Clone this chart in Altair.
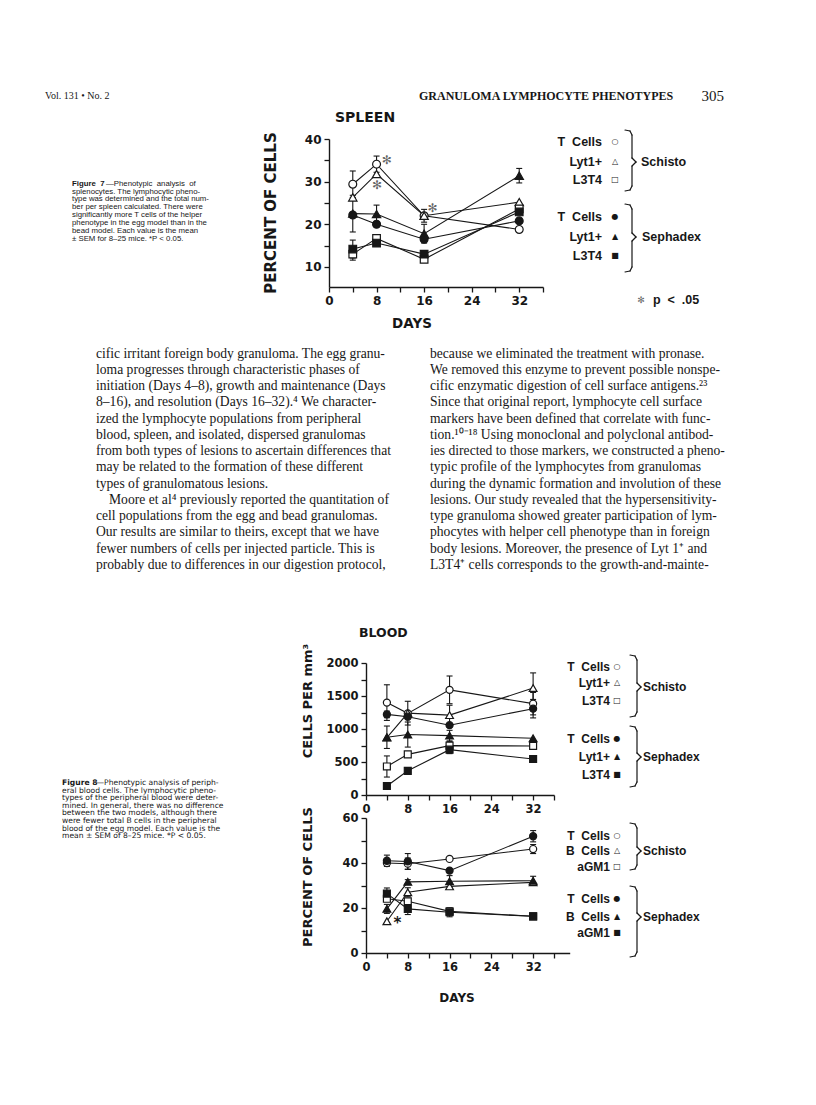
import altair as alt
import pandas as pd

OFF = 8
W, H = 800, 1089


def P(v):
    return v - OFF


INK = "#171717"
SANS = "Liberation Sans"
WIDE = "DejaVu Sans"
SERIF = "Liberation Serif"
NB = "\u00a0"

days = [4, 8, 16, 32]

# ---------------- Figure 7: spleen, percent of cells ----------------
spleen_names = ["Schisto T Cells", "Schisto Lyt1+", "Schisto L3T4",
                "Sephadex T Cells", "Sephadex Lyt1+", "Sephadex L3T4"]
spleen_schisto_t = [29.4, 34.1, 22.0, 18.8]
spleen_schisto_lyt = [26.3, 31.8, 22.0, 25.2]
spleen_schisto_l3t4 = [13.0, 16.7, 11.8, 23.6]
spleen_sephadex_t = [22.2, 20.0, 16.5, 20.8]
spleen_sephadex_lyt = [22.5, 22.4, 17.8, 31.4]
spleen_sephadex_l3t4 = [14.2, 15.6, 13.0, 22.9]
spleen_sem = [[3.1, 1.9, 0, 0], [0, 0, 1.5, 0], [1.4, 0, 0, 0],
              [0, 0, 0, 0], [4.3, 2.1, 2.2, 1.7], [2.1, 0.6, 0, 0]]
spleen_star_days = [9.7, 8.1, 17.4]
spleen_star_vals = [35.0, 29.3, 23.9]

# ---------------- Figure 8: blood, cells per mm3 ----------------
cells_names = ["Schisto T Cells", "Schisto Lyt1+", "Schisto L3T4",
               "Sephadex T Cells", "Sephadex Lyt1+", "Sephadex L3T4"]
cells_schisto_t = [1400, 1237, 1593, 1384]
cells_schisto_lyt = [870, 1240, 1210, 1620]
cells_schisto_l3t4 = [432, 616, 748, 743]
cells_sephadex_t = [1221, 1186, 1058, 1308]
cells_sephadex_lyt = [875, 916, 900, 860]
cells_sephadex_l3t4 = [137, 366, 687, 545]
cells_sem = [[270, 0, 210, 170], [0, 180, 150, 230], [160, 0, 60, 0],
             [50, 0, 0, 140], [170, 190, 80, 0], [0, 0, 60, 0]]

# ---------------- Figure 8: blood, percent of cells ----------------
pct_names = ["Schisto T Cells", "Schisto B Cells", "Schisto aGM1",
             "Sephadex T Cells", "Sephadex B Cells", "Sephadex aGM1"]
pct_schisto_t = [40.0, 39.7, 41.8, 46.2]
pct_schisto_b = [14.1, 27.0, 29.6, 31.4]
pct_schisto_agm1 = [24.1, 23.0, 18.5, 16.3]
pct_sephadex_t = [41.0, 40.7, 36.6, 51.9]
pct_sephadex_b = [19.6, 31.6, 31.9, 32.1]
pct_sephadex_agm1 = [26.4, 19.6, 18.1, 16.3]
pct_sem = [[0, 2.5, 0, 2.0], [0, 2.0, 0, 0], [0, 0, 0, 0],
           [2.5, 3.5, 0, 2.5], [2.0, 1.0, 2.5, 2.0], [2.5, 2.5, 2.0, 0]]
pct_star_days = [6.0]
pct_star_vals = [13.3]

# ---------------- text ----------------
header_left = "Vol. 131 • No. 2"
header_title = "GRANULOMA LYMPHOCYTE PHENOTYPES"
header_page = "305"

fig7_lines = [
    "splenocytes. The lymphocytic pheno-",
    "type was determined and the total num-",
    "ber per spleen calculated. There were",
    "significantly more T cells of the helper",
    "phenotype in the egg model than in the",
    "bead model. Each value is the mean",
    "± SEM for 8–25 mice. *P < 0.05.",
]
fig8_lines = [
    "eral blood cells. The lymphocytic pheno-",
    "types of the peripheral blood were deter-",
    "mined. In general, there was no difference",
    "between the two models, although there",
    "were fewer total B cells in the peripheral",
    "blood of the egg model. Each value is the",
    "mean ± SEM of 8–25 mice. *P < 0.05.",
]
body_left_a = [
    "cific irritant foreign body granuloma. The egg granu-",
    "loma progresses through characteristic phases of",
    "initiation (Days 4–8), growth and maintenance (Days",
    "8–16), and resolution (Days 16–32).⁴ We character-",
    "ized the lymphocyte populations from peripheral",
    "blood, spleen, and isolated, dispersed granulomas",
    "from both types of lesions to ascertain differences that",
    "may be related to the formation of these different",
    "types of granulomatous lesions.",
]
body_left_indent = "Moore et al⁴ previously reported the quantitation of"
body_left_b = [
    "cell populations from the egg and bead granulomas.",
    "Our results are similar to theirs, except that we have",
    "fewer numbers of cells per injected particle. This is",
    "probably due to differences in our digestion protocol,",
]
body_right = [
    "because we eliminated the treatment with pronase.",
    "We removed this enzyme to prevent possible nonspe-",
    "cific enzymatic digestion of cell surface antigens.²³",
    "Since that original report, lymphocyte cell surface",
    "markers have been defined that correlate with func-",
    "tion.¹⁰⁻¹⁸ Using monoclonal and polyclonal antibod-",
    "ies directed to those markers, we constructed a pheno-",
    "typic profile of the lymphocytes from granulomas",
    "during the dynamic formation and involution of these",
    "lesions. Our study revealed that the hypersensitivity-",
    "type granuloma showed greater participation of lym-",
    "phocytes with helper cell phenotype than in foreign",
    "body lesions. Moreover, the presence of Lyt 1⁺ and",
    "L3T4⁺ cells corresponds to the growth-and-mainte-",
]

MARKERS = [("circle", False), ("triangle-up", False), ("square", False),
           ("circle", True), ("triangle-up", True), ("square", True)]

dummy = pd.DataFrame({"k": [0]})


def txt(s, x, y, size=12, font=SANS, weight="normal", align="left",
        baseline="middle", angle=None, color=INK, lh=None):
    kw = dict(text=s, fontSize=size, font=font, fontWeight=weight, align=align,
              baseline=baseline, color=color)
    if angle is not None:
        kw["angle"] = angle
    if lh is not None:
        kw["lineHeight"] = lh
    return alt.Chart(dummy).mark_text(**kw).encode(
        x=alt.value(P(x)), y=alt.value(P(y)))


def seg(x1, y1, x2, y2):
    return alt.Chart(dummy).mark_rule(color=INK, strokeWidth=1.2, strokeCap="round").encode(
        x=alt.value(P(x1)), y=alt.value(P(y1)), x2=alt.value(P(x2)), y2=alt.value(P(y2)))


def brace(x, top, mid, bottom):
    pts = [(x - 7, top), (x - 2, top + 1), (x, top + 5), (x, mid - 4), (x + 4, mid),
           (x, mid + 4), (x, bottom - 5), (x - 2, bottom - 1), (x - 7, bottom)]
    return [seg(*pts[i], *pts[i + 1]) for i in range(len(pts) - 1)]


def axis(orient, offset, values, label_expr, size):
    return alt.Axis(orient=orient, offset=offset, values=values, labelExpr=label_expr,
                    format="d", title=None, grid=False, domainColor=INK, domainWidth=1.4,
                    tickColor=INK, tickWidth=1.3, tickSize=5, labelFont=WIDE,
                    labelFontWeight="bold", labelFontSize=size, labelColor=INK,
                    labelPadding=3, labelOverlap=False, labelFlush=False, labelBound=False)


def plot_layers(names, vals, sems, xs, ys, xaxis, yaxis, msize):
    rows = []
    for n, v, s in zip(names, vals, sems):
        for d, vv, ss in zip(days, v, s):
            rows.append({"series": n, "day": d, "value": vv,
                         "lo": vv - ss, "hi": vv + ss, "sem": ss})
    df = pd.DataFrame(rows)
    layers = [alt.Chart(df).mark_line(color=INK, strokeWidth=1.1).encode(
        x=alt.X("day:Q", scale=xs, axis=xaxis),
        y=alt.Y("value:Q", scale=ys, axis=yaxis),
        detail="series:N", order="day:Q")]
    err = df[df["sem"] > 0]
    layers.append(alt.Chart(err).mark_rule(color=INK, strokeWidth=1.1).encode(
        x=alt.X("day:Q", scale=xs, axis=None),
        y=alt.Y("lo:Q", scale=ys, axis=None), y2="hi:Q"))
    for f in ["lo", "hi"]:
        layers.append(alt.Chart(err).mark_rule(color=INK, strokeWidth=1.1,
                                               xOffset=-3, x2Offset=3).encode(
            x=alt.X("day:Q", scale=xs, axis=None), x2="day:Q",
            y=alt.Y(f + ":Q", scale=ys, axis=None)))
    for i, n in enumerate(names):
        shape, filled = MARKERS[i]
        sub = df[df["series"] == n]
        layers.append(alt.Chart(sub).mark_point(
            shape=shape, filled=True, fill=INK if filled else "white", stroke=INK,
            strokeWidth=1.2, size=msize[shape], opacity=1).encode(
            x=alt.X("day:Q", scale=xs, axis=None),
            y=alt.Y("value:Q", scale=ys, axis=None)))
    return layers


layers = []

# header
layers.append(txt(header_left, 45, 96, size=10, font=SERIF))
layers.append(txt(header_title, 419, 96, size=12, font=SERIF, weight="bold"))
layers.append(txt(header_page, 724, 96, size=15, font=SERIF, align="right"))

# ---- spleen plot
xs1 = alt.Scale(domain=[0, 36], range=[P(329), P(543)], nice=False, zero=False)
ys1 = alt.Scale(domain=[5.3, 40], range=[P(287), P(139)], nice=False, zero=False)
xa1 = axis("bottom", P(287) - H, list(range(0, 37, 4)),
           "datum.value % 8 == 0 && datum.value <= 32 ? datum.label : ''", 12)
ya1 = axis("left", -P(329), list(range(10, 41, 5)),
           "datum.value % 10 == 0 ? datum.label : ''", 12)
layers += plot_layers(spleen_names,
                      [spleen_schisto_t, spleen_schisto_lyt, spleen_schisto_l3t4,
                       spleen_sephadex_t, spleen_sephadex_lyt, spleen_sephadex_l3t4],
                      spleen_sem, xs1, ys1, xa1, ya1,
                      {"circle": 62, "triangle-up": 70, "square": 58})
stars1 = pd.DataFrame({"day": spleen_star_days, "value": spleen_star_vals})
layers.append(alt.Chart(stars1).mark_text(text="✻", font=WIDE, fontSize=12, color="#666").encode(
    x=alt.X("day:Q", scale=xs1, axis=None), y=alt.Y("value:Q", scale=ys1, axis=None)))
layers.append(txt("SPLEEN", 335, 118, size=14, font=WIDE, weight="bold"))
layers.append(txt("PERCENT OF CELLS", 271, 213, size=15, font=WIDE, weight="bold", align="center", angle=270))
layers.append(txt("DAYS", 412, 324, size=13.5, font=WIDE, weight="bold", align="center"))

# spleen legend
for lab, y, sym in [("T" + NB + NB + "Cells", 142, "○"), ("Lyt1+", 162, "△"), ("L3T4", 180, "□"),
                    ("T" + NB + NB + "Cells", 217, "●"), ("Lyt1+", 237, "▲"), ("L3T4", 256, "■")]:
    layers.append(txt(lab, 602, y, size=12.5, weight="bold", align="right"))
    layers.append(txt(sym, 615, y, size=8, font=WIDE, align="center"))
layers += brace(632, 130, 162, 191)
layers += brace(632, 204, 237, 272)
layers.append(txt("Schisto", 641, 162, size=12.5, weight="bold"))
layers.append(txt("Sephadex", 642, 237, size=12.5, weight="bold"))
layers.append(txt("✻", 641, 300, size=9, font=WIDE, color="#666", align="center"))
layers.append(txt("p" + NB + NB + "<" + NB + NB + ".05", 653, 300, size=12.5, weight="bold"))

# Figure 7 caption
layers.append(txt("Figure" + NB + NB + "7", 72, 185.7, size=7.8, weight="bold", baseline="alphabetic"))
layers.append(txt("—Phenotypic" + NB + NB + "analysis" + NB + NB + "of", 106, 185.7, size=7.8,
                  baseline="alphabetic"))
layers.append(txt(fig7_lines, 72, 185.7 + 7.9, size=7.8, baseline="alphabetic", lh=7.9))

# body text
LH = 16.25
B0 = 357.5
layers.append(txt(body_left_a, 96, B0, size=13.6, font=SERIF, baseline="alphabetic", lh=LH))
layers.append(txt(body_left_indent, 109, B0 + 9 * LH, size=13.6, font=SERIF, baseline="alphabetic"))
layers.append(txt(body_left_b, 96, B0 + 10 * LH, size=13.6, font=SERIF, baseline="alphabetic", lh=LH))
layers.append(txt(body_right, 430, B0, size=13.6, font=SERIF, baseline="alphabetic", lh=LH))

# ---- blood cells per mm3
xs2 = alt.Scale(domain=[0, 36], range=[P(366), P(554)], nice=False, zero=False)
ys2 = alt.Scale(domain=[0, 2000], range=[P(795), P(663)], nice=False, zero=False)
xa2 = axis("bottom", P(795) - H, list(range(0, 37, 4)),
           "datum.value % 8 == 0 && datum.value <= 32 ? datum.label : ''", 11.5)
ya2 = axis("left", -P(366), list(range(0, 2001, 250)),
           "datum.value % 500 == 0 ? datum.label : ''", 11.5)
layers += plot_layers(cells_names,
                      [cells_schisto_t, cells_schisto_lyt, cells_schisto_l3t4,
                       cells_sephadex_t, cells_sephadex_lyt, cells_sephadex_l3t4],
                      cells_sem, xs2, ys2, xa2, ya2,
                      {"circle": 50, "triangle-up": 60, "square": 48})

# ---- blood percent of cells
xs3 = alt.Scale(domain=[0, 39], range=[P(366), P(569.7)], nice=False, zero=False)
ys3 = alt.Scale(domain=[0, 60], range=[P(953), P(818)], nice=False, zero=False)
xa3 = axis("bottom", P(953) - H, list(range(0, 37, 4)),
           "datum.value % 8 == 0 && datum.value <= 32 ? datum.label : ''", 11.5)
ya3 = axis("left", -P(366), list(range(0, 61, 10)),
           "datum.value % 20 == 0 ? datum.label : ''", 11.5)
layers += plot_layers(pct_names,
                      [pct_schisto_t, pct_schisto_b, pct_schisto_agm1,
                       pct_sephadex_t, pct_sephadex_b, pct_sephadex_agm1],
                      pct_sem, xs3, ys3, xa3, ya3,
                      {"circle": 50, "triangle-up": 60, "square": 48})
stars3 = pd.DataFrame({"day": pct_star_days, "value": pct_star_vals})
layers.append(alt.Chart(stars3).mark_text(text="*", font=WIDE, fontSize=15, fontWeight="bold",
                                         color=INK, baseline="middle").encode(
    x=alt.X("day:Q", scale=xs3, axis=None), y=alt.Y("value:Q", scale=ys3, axis=None)))

layers.append(txt("BLOOD", 359, 633, size=12.5, font=WIDE, weight="bold"))
layers.append(txt("CELLS PER mm³", 308, 701, size=13, font=WIDE, weight="bold", align="center", angle=270))
layers.append(txt("PERCENT OF CELLS", 308, 877, size=13, font=WIDE, weight="bold", align="center", angle=270))
layers.append(txt("DAYS", 457, 998, size=12, font=WIDE, weight="bold", align="center"))

# blood legends
TC = "T" + NB + NB + "Cells"
BC = "B" + NB + NB + "Cells"
legend_rows = [
    (TC, 667, "○"), ("Lyt1+", 683, "△"), ("L3T4", 701, "□"),
    (TC, 739, "●"), ("Lyt1+", 757, "▲"), ("L3T4", 775, "■"),
    (TC, 836, "○"), (BC, 851, "△"), ("aGM1", 867, "□"),
    (TC, 899, "●"), (BC, 917, "▲"), ("aGM1", 933, "■"),
]
for lab, y, sym in legend_rows:
    layers.append(txt(lab, 610, y, size=12, weight="bold", align="right"))
    layers.append(txt(sym, 617, y, size=8, font=WIDE, align="center"))
for top, mid, bot, name in [(655, 687, 717, "Schisto"), (726, 757, 787, "Sephadex"),
                            (823, 851, 870, "Schisto"), (886, 917, 957, "Sephadex")]:
    layers += brace(637, top, mid, bot)
    layers.append(txt(name, 643, mid, size=12, weight="bold"))

# Figure 8 caption
layers.append(txt("Figure" + NB + "8", 62, 785, size=7.6, font=WIDE, weight="bold", baseline="alphabetic"))
layers.append(txt("—Phenotypic analysis of periph-", 96.5, 785, size=7.6, font=WIDE, baseline="alphabetic"))
layers.append(txt(fig8_lines, 62, 785 + 7.6, size=7.6, font=WIDE, baseline="alphabetic", lh=7.6))

chart = alt.layer(*layers).resolve_scale(x="independent", y="independent").properties(
    width=W, height=H, autosize="none", padding=0, background="white"
).configure_view(stroke=None)

chart.save("out.html", embed_options={"renderer": "svg", "actions": False})
